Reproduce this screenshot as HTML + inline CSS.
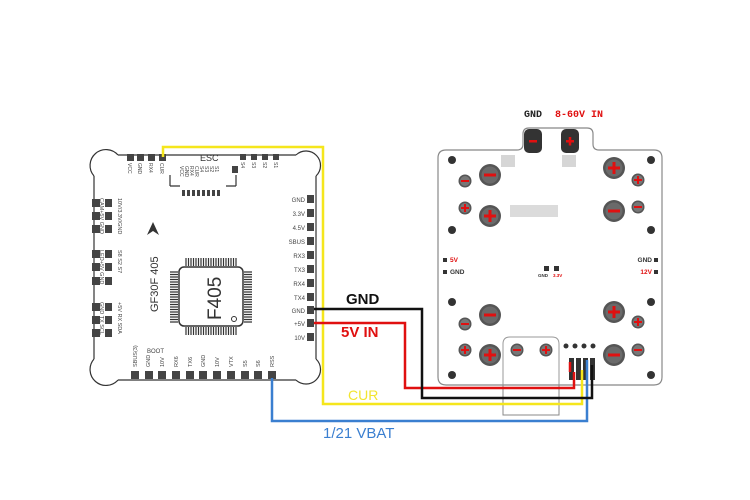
<!DOCTYPE html>
<html><head><style>
html,body{margin:0;padding:0;background:#fff;}
svg{display:block;font-family:"Liberation Sans",sans-serif;}
</style></head><body>
<svg width="750" height="500" viewBox="0 0 750 500" xmlns="http://www.w3.org/2000/svg">
<rect width="750" height="500" fill="#fff"/>
<defs>
<g id="bigm"><circle r="11" fill="#555"/><circle r="8.5" fill="#6a6a6a"/><rect x="-6" y="-1.5" width="12" height="3" fill="#e01010"/></g>
<g id="bigp"><circle r="11" fill="#555"/><circle r="8.5" fill="#6a6a6a"/><rect x="-6" y="-1.5" width="12" height="3" fill="#e01010"/><rect x="-1.5" y="-6" width="3" height="12" fill="#e01010"/></g>
<g id="smm"><circle r="6.5" fill="#555"/><circle r="5" fill="#777"/><rect x="-4" y="-1" width="8" height="2" fill="#e01010"/></g>
<g id="smp"><circle r="6.5" fill="#555"/><circle r="5" fill="#777"/><rect x="-4" y="-1" width="8" height="2" fill="#e01010"/><rect x="-1" y="-4" width="2" height="8" fill="#e01010"/></g>
<g id="hole"><circle r="4" fill="#333"/></g>
</defs>

<!-- LEFT BOARD -->
<g stroke="#333" stroke-width="1.2" fill="none">
<path d="M118,155 L296,155 M316,176 L316,359 M296,380 L118,380 M94,359 L94,176"/>
<path d="M118,155 A14,14 0 1 0 94,176"/>
<path d="M296,155 A14,14 0 1 1 316,176"/>
<path d="M316,359 A14,14 0 1 1 296,380"/>
<path d="M118,380 A14,14 0 1 1 94,359"/>
<path d="M170,175 L170,186 M236,175 L236,186 M170,186 L180,186 M226,186 L236,186"/>
</g>
<g fill="#444">
<rect x="127" y="154" width="7" height="7"/><rect x="137" y="154" width="7" height="7"/><rect x="148" y="154" width="7" height="7"/><rect x="159" y="154" width="7" height="7"/>
<rect x="240" y="154" width="6" height="6"/><rect x="251" y="154" width="6" height="6"/><rect x="262" y="154" width="6" height="6"/><rect x="273" y="154" width="6" height="6"/>
<rect x="232" y="166" width="6" height="7"/>
<rect x="182" y="190" width="3" height="6"/><rect x="187" y="190" width="3" height="6"/><rect x="192" y="190" width="3" height="6"/><rect x="197" y="190" width="3" height="6"/><rect x="202" y="190" width="3" height="6"/><rect x="207" y="190" width="3" height="6"/><rect x="212" y="190" width="3" height="6"/><rect x="217" y="190" width="3" height="6"/>
</g>
<text x="200" y="161" font-size="9" fill="#333">ESC</text>
<g font-size="5" fill="#444">
<text transform="translate(128,163) rotate(90)">VCC</text>
<text transform="translate(138,163) rotate(90)">GND</text>
<text transform="translate(149,163) rotate(90)">RX4</text>
<text transform="translate(160,163) rotate(90)">CUR</text>
<text transform="translate(180,166) rotate(90)">VCC</text>
<text transform="translate(185,166) rotate(90)">GND</text>
<text transform="translate(190,166) rotate(90)">RX4</text>
<text transform="translate(195,166) rotate(90)">CUR</text>
<text transform="translate(200,166) rotate(90)">S4</text>
<text transform="translate(205,166) rotate(90)">S3</text>
<text transform="translate(210,166) rotate(90)">S2</text>
<text transform="translate(215,166) rotate(90)">S1</text>
<text transform="translate(241,162) rotate(90)">S4</text>
<text transform="translate(252,162) rotate(90)">S3</text>
<text transform="translate(263,162) rotate(90)">S2</text>
<text transform="translate(274,162) rotate(90)">S1</text>
</g>
<!-- right pads -->
<g fill="#444">
<rect x="307" y="195" width="7" height="8"/><rect x="307" y="209" width="7" height="8"/><rect x="307" y="223" width="7" height="8"/><rect x="307" y="237" width="7" height="8"/><rect x="307" y="251" width="7" height="8"/><rect x="307" y="265" width="7" height="8"/><rect x="307" y="279" width="7" height="8"/><rect x="307" y="293" width="7" height="8"/><rect x="307" y="306" width="7" height="8"/><rect x="307" y="319" width="7" height="8"/><rect x="307" y="333" width="7" height="8"/>
</g>
<g font-size="6" fill="#444" text-anchor="end">
<text x="305" y="202">GND</text><text x="305" y="216">3.3V</text><text x="305" y="230">4.5V</text><text x="305" y="244">SBUS</text><text x="305" y="258">RX3</text><text x="305" y="272">TX3</text><text x="305" y="286">RX4</text><text x="305" y="300">TX4</text><text x="305" y="313">GND</text><text x="305" y="326">+5V</text><text x="305" y="340">10V</text>
</g>
<!-- bottom pads -->
<g fill="#444">
<rect x="131" y="371" width="8" height="8"/><rect x="145" y="371" width="8" height="8"/><rect x="158" y="371" width="8" height="8"/><rect x="172" y="371" width="8" height="8"/><rect x="186" y="371" width="8" height="8"/><rect x="199" y="371" width="8" height="8"/><rect x="213" y="371" width="8" height="8"/><rect x="227" y="371" width="8" height="8"/><rect x="241" y="371" width="8" height="8"/><rect x="254" y="371" width="8" height="8"/><rect x="268" y="371" width="8" height="8"/>
</g>
<g font-size="5.5" fill="#444">
<text transform="translate(137,367) rotate(-90)">SBUS(3)</text>
<text transform="translate(150,367) rotate(-90)">GND</text>
<text transform="translate(164,367) rotate(-90)">10V</text>
<text transform="translate(178,367) rotate(-90)">RX6</text>
<text transform="translate(192,367) rotate(-90)">TX6</text>
<text transform="translate(205,367) rotate(-90)">GND</text>
<text transform="translate(219,367) rotate(-90)">10V</text>
<text transform="translate(233,367) rotate(-90)">VTX</text>
<text transform="translate(247,367) rotate(-90)">S5</text>
<text transform="translate(260,367) rotate(-90)">S6</text>
<text transform="translate(274,367) rotate(-90)">RSS</text>
<text x="147" y="353" font-size="6">BOOT</text>
</g>
<!-- left pads -->
<g fill="#444">
<rect x="92" y="199" width="8" height="8"/><rect x="105" y="199" width="7" height="8"/>
<rect x="92" y="212" width="8" height="8"/><rect x="105" y="212" width="7" height="8"/>
<rect x="92" y="225" width="8" height="8"/><rect x="105" y="225" width="7" height="8"/>
<rect x="92" y="250" width="8" height="8"/><rect x="105" y="250" width="7" height="8"/>
<rect x="92" y="263" width="8" height="8"/><rect x="105" y="263" width="7" height="8"/>
<rect x="92" y="277" width="8" height="8"/><rect x="105" y="277" width="7" height="8"/>
<rect x="92" y="303" width="8" height="8"/><rect x="105" y="303" width="7" height="8"/>
<rect x="92" y="316" width="8" height="8"/><rect x="105" y="316" width="7" height="8"/>
<rect x="92" y="329" width="8" height="8"/><rect x="105" y="329" width="7" height="8"/>
</g>
<g font-size="5.5" fill="#444">
<text transform="translate(118,198) rotate(90)">10V/3.3V/GND</text>
<text transform="translate(100,198) rotate(90)">CAM+5V GND</text>
<text transform="translate(118,250) rotate(90)">S8 S2 S7</text>
<text transform="translate(100,250) rotate(90)">LED+5V GND</text>
<text transform="translate(118,302) rotate(90)">+5V RX SDA</text>
<text transform="translate(100,302) rotate(90)">GND TX SCL</text>
</g>
<path d="M147,235 L153,222 L159,235 L153,231 Z" fill="#333"/>
<text transform="translate(158,312) rotate(-90)" font-size="11" fill="#333">GF30F 405</text>
<!-- chip -->
<g fill="#444">
<g id="pinsT">
<rect x="185" y="259" width="54" height="7" fill="url(#none)"/>
</g>
</g>
<g stroke="#333" stroke-width="1.2">
<path d="M186,258 V266 M188.5,258 V266 M191,258 V266 M193.5,258 V266 M196,258 V266 M198.5,258 V266 M201,258 V266 M203.5,258 V266 M206,258 V266 M208.5,258 V266 M211,258 V266 M213.5,258 V266 M216,258 V266 M218.5,258 V266 M221,258 V266 M223.5,258 V266 M226,258 V266 M228.5,258 V266 M231,258 V266 M233.5,258 V266 M236,258 V266"/>
<path d="M186,327 V335 M188.5,327 V335 M191,327 V335 M193.5,327 V335 M196,327 V335 M198.5,327 V335 M201,327 V335 M203.5,327 V335 M206,327 V335 M208.5,327 V335 M211,327 V335 M213.5,327 V335 M216,327 V335 M218.5,327 V335 M221,327 V335 M223.5,327 V335 M226,327 V335 M228.5,327 V335 M231,327 V335 M233.5,327 V335 M236,327 V335"/>
<path d="M170,272 H178 M170,274.5 H178 M170,277 H178 M170,279.5 H178 M170,282 H178 M170,284.5 H178 M170,287 H178 M170,289.5 H178 M170,292 H178 M170,294.5 H178 M170,297 H178 M170,299.5 H178 M170,302 H178 M170,304.5 H178 M170,307 H178 M170,309.5 H178 M170,312 H178 M170,314.5 H178 M170,317 H178 M170,319.5 H178 M170,322 H178"/>
<path d="M244,272 H252 M244,274.5 H252 M244,277 H252 M244,279.5 H252 M244,282 H252 M244,284.5 H252 M244,287 H252 M244,289.5 H252 M244,292 H252 M244,294.5 H252 M244,297 H252 M244,299.5 H252 M244,302 H252 M244,304.5 H252 M244,307 H252 M244,309.5 H252 M244,312 H252 M244,314.5 H252 M244,317 H252 M244,319.5 H252 M244,322 H252"/>
</g>
<rect x="179" y="267" width="64" height="59" rx="5" fill="#fff" stroke="#333" stroke-width="1.5"/>
<circle cx="234" cy="319" r="2.5" fill="none" stroke="#333" stroke-width="1"/>
<text transform="translate(221,320) rotate(-90)" font-size="19" fill="#333">F405</text>

<!-- RIGHT BOARD -->
<path d="M446,150 H517 Q523,150 523,144 V134 Q523,128 529,128 H587 Q593,128 593,134 V144 Q593,150 599,150 H654 Q662,150 662,158 V377 Q662,385 654,385 H446 Q438,385 438,377 V158 Q438,150 446,150 Z" fill="#fff" stroke="#888" stroke-width="1.2"/>
<path d="M503,385 V344 Q503,337 510,337 H552 Q559,337 559,344 V385" fill="none" stroke="#999" stroke-width="1"/>
<rect x="503" y="385" width="56" height="30" fill="none" stroke="#888" stroke-width="1"/>
<rect x="524" y="129" width="18" height="24" rx="5" fill="#333"/><rect x="529" y="140" width="8" height="2.5" fill="#e01010"/>
<rect x="561" y="129" width="18" height="24" rx="5" fill="#333"/><rect x="566" y="140" width="8" height="2.5" fill="#e01010"/><rect x="568.75" y="137" width="2.5" height="8.5" fill="#e01010"/>
<text x="524" y="117" font-size="10" font-weight="bold" fill="#222" font-family="Liberation Mono,monospace">GND</text>
<text x="555" y="117" font-size="10" font-weight="bold" fill="#e01010" font-family="Liberation Mono,monospace">8-60V IN</text>
<g fill="#999">
<rect x="501" y="155" width="14" height="12" opacity=".4"/><rect x="562" y="155" width="14" height="12" opacity=".4"/>
<rect x="510" y="205" width="48" height="12" opacity=".35"/>
</g>
<use href="#bigm" x="490" y="175"/><use href="#bigp" x="490" y="216"/><use href="#bigp" x="614" y="168"/><use href="#bigm" x="614" y="211"/>
<use href="#bigm" x="490" y="315"/><use href="#bigp" x="490" y="355"/><use href="#bigp" x="614" y="312"/><use href="#bigm" x="614" y="355"/>
<use href="#smm" x="465" y="181"/><use href="#smp" x="465" y="208"/><use href="#smp" x="638" y="180"/><use href="#smm" x="638" y="207"/>
<use href="#smm" x="465" y="324"/><use href="#smp" x="465" y="350"/><use href="#smp" x="638" y="322"/><use href="#smm" x="638" y="350"/>
<use href="#smm" x="517" y="350"/><use href="#smp" x="546" y="350"/>
<use href="#hole" x="452" y="160"/><use href="#hole" x="651" y="160"/><use href="#hole" x="452" y="230"/><use href="#hole" x="651" y="230"/>
<use href="#hole" x="452" y="302"/><use href="#hole" x="651" y="302"/><use href="#hole" x="452" y="375"/><use href="#hole" x="651" y="375"/>
<g fill="#333">
<rect x="443" y="258" width="4" height="4"/><rect x="443" y="270" width="4" height="4"/>
<rect x="544" y="266" width="5" height="5"/><rect x="554" y="266" width="5" height="5"/>
<rect x="654" y="258" width="4" height="4"/><rect x="654" y="270" width="4" height="4"/>
<circle cx="566" cy="346" r="2.5"/><circle cx="575" cy="346" r="2.5"/><circle cx="584" cy="346" r="2.5"/><circle cx="593" cy="346" r="2.5"/>
<rect x="569" y="358" width="5" height="22"/><rect x="576" y="358" width="5" height="22"/><rect x="583" y="358" width="5" height="22"/><rect x="590" y="358" width="5" height="22"/>
</g>
<g font-size="6.5" font-weight="bold">
<text x="450" y="262" fill="#e01010">5V</text><text x="450" y="274" fill="#333">GND</text>
<text x="538" y="277" font-size="4.5" fill="#333">GND</text><text x="553" y="277" font-size="4.5" fill="#e01010">3.3V</text>
<text x="652" y="262" fill="#333" text-anchor="end">GND</text><text x="652" y="274" fill="#e01010" text-anchor="end">12V</text>
</g>

<!-- WIRES -->
<g fill="none" stroke-width="2.5">
<path d="M163,157 V147 H323 V404 H582 V370" stroke="#f5e61c"/>
<path d="M272,378 V421 H587 V360" stroke="#3a7fd0"/>
<path d="M314,323 H405 V388 H574 V372 M570,372 V362" stroke="#e01010"/>
<path d="M314,309 H422 V398 H592 V365" stroke="#111"/>
</g>
<text x="346" y="304" font-size="15" font-weight="bold" fill="#111">GND</text>
<text x="341" y="337" font-size="15" font-weight="bold" fill="#e01010">5V IN</text>
<text x="348" y="400" font-size="14" fill="#f2e530">CUR</text>
<text x="323" y="438" font-size="15" fill="#3a7fd0">1/21 VBAT</text>
</svg>
</body></html>
